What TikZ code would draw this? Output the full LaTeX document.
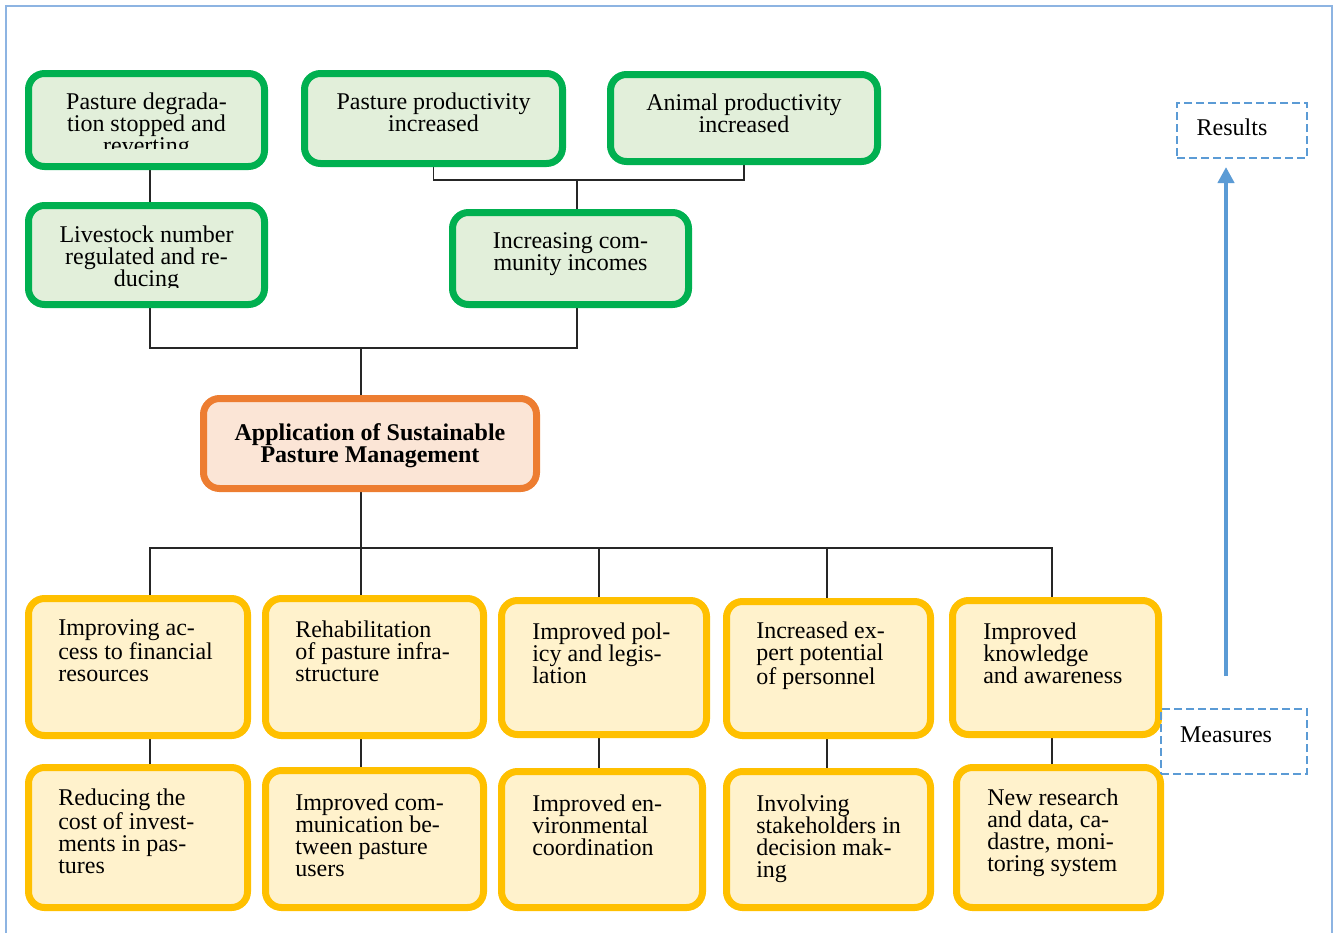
\documentclass[tikz,border=0pt]{standalone}
\usepackage{fontspec}
\setmainfont{Liberation Serif}
\usetikzlibrary{fit,backgrounds,arrows.meta}
\definecolor{gline}{HTML}{00B050}
\definecolor{gfill}{HTML}{E2EFDA}
\definecolor{oline}{HTML}{ED7D31}
\definecolor{ofill}{HTML}{FBE5D6}
\definecolor{yline}{HTML}{FFC000}
\definecolor{yfill}{HTML}{FFF2CC}
\definecolor{bline}{HTML}{5B9BD5}
\definecolor{frame}{HTML}{8DB4E2}
\tikzset{
  box/.style={rectangle, rounded corners=12pt, line width=5.25pt, inner sep=0pt, outer sep=0pt},
  gbox/.style={box, draw=gline, fill=gfill},
  obox/.style={box, draw=oline, fill=ofill},
  ybox/.style={box, draw=yline, fill=yfill},
  dbox/.style={rectangle, draw=bline, line width=0.9pt, dash pattern=on 6pt off 3pt, inner sep=0pt},
  txt/.style={inner sep=0pt, font=\fontsize{18}{16.5}\selectfont},
  ctxt/.style={txt, align=center, anchor=base},
  ltxt/.style={txt, align=left, anchor=base west},
  conn/.style={draw=black!85, line width=0.8pt},
}
\newcommand\bx[6]{\node[#1, fit={({#3+3.5},{#4+3.5}) ({#5-3.5},{#6-3.5})}] (#2) {};}
\begin{document}
\begin{tikzpicture}[x=0.75pt,y=-0.75pt]
\useasboundingbox (0,0) rectangle (1334,932);
% boxes
\bx{gbox}{g1}{25}{70}{268}{170}
\bx{gbox}{g2}{301}{70}{566}{167}
\bx{gbox}{g3}{607}{71}{881}{165}
\bx{gbox}{g4}{25}{202}{268}{308}
\bx{gbox}{g5}{449}{209}{692}{308}
\bx{obox}{o}{200}{395}{540}{492}
\bx{ybox}{y11}{25}{595}{251}{739}
\bx{ybox}{y12}{262}{595}{487}{739}
\bx{ybox}{y13}{498}{597}{710}{738}
\bx{ybox}{y14}{723}{598}{934}{739}
\bx{ybox}{y15}{949}{597}{1162}{738}
\bx{ybox}{y21}{25}{764}{251}{911}
\bx{ybox}{y22}{262}{767}{487}{911}
\bx{ybox}{y23}{498}{768}{706}{911}
\bx{ybox}{y24}{723}{768}{934}{911}
\bx{ybox}{y25}{953}{764}{1164}{911}
\node[dbox, fit={(1177,103) (1307,158)}] (res) {};
\node[dbox, fit={(1161,709) (1307,774)}] (mea) {};
% column coordinates
\coordinate (c150) at (150,0);
\coordinate (c361) at (361,0);
\coordinate (c577) at (577,0);
\coordinate (c599) at (599,0);
\coordinate (c827) at (827,0);
\coordinate (c1052) at (1052,0);
\coordinate (j1) at (577,180);
\coordinate (j2) at (361,348);
\coordinate (j3) at (361,548);
\coordinate (atail) at (1226,676);
\coordinate (atip) at (1226,167);
\begin{scope}[on background layer]
\draw[frame, line width=1.5pt] (6,6) rectangle (1332,945);
\draw[conn] (c150 |- g1.south) -- (c150 |- g4.north);
\draw[conn] (g2.south) |- (j1) -| (g3.south);
\draw[conn] (j1) -- (c577 |- g5.north);
\draw[conn] (c150 |- g4.south) -- (c150 |- j2) -- (c577 |- j2) -- (c577 |- g5.south);
\draw[conn] (j2) -- (c361 |- o.north);
\draw[conn] (c361 |- o.south) -- (j3);
\draw[conn] (c150 |- y11.north) -- (c150 |- j3) -- (c1052 |- j3) -- (c1052 |- y15.north);
\draw[conn] (c361 |- j3) -- (c361 |- y12.north);
\draw[conn] (c599 |- j3) -- (c599 |- y13.north);
\draw[conn] (c827 |- j3) -- (c827 |- y14.north);
\draw[conn] (c150 |- y11.south) -- (c150 |- y21.north);
\draw[conn] (c361 |- y12.south) -- (c361 |- y22.north);
\draw[conn] (c599 |- y13.south) -- (c599 |- y23.north);
\draw[conn] (c827 |- y14.south) -- (c827 |- y24.north);
\draw[conn] (c1052 |- y15.south) -- (c1052 |- y25.north);
\end{scope}
\draw[bline, line width=3pt, -{Triangle[width=12pt,length=12pt]}] (atail) -- (atip);
% texts (anchor = baseline of last line)
\begin{scope}
\clip (25,70) rectangle (268,148);
\node[ctxt] (t1) at (146.5,153) {Pasture degrada-\\tion stopped and\\reverting};
\end{scope}
\node[ctxt] (t2) at (433.5,131) {Pasture productivity\\increased};
\node[ctxt] (t3) at (744,132) {Animal productivity\\increased};
\begin{scope}
\clip (25,202) rectangle (268,287);
\node[ctxt] (t4) at (146.5,286) {Livestock number\\regulated and re-\\ducing};
\end{scope}
\node[ctxt] (t5) at (570.5,270) {Increasing com-\\munity incomes};
\node[ctxt, font=\fontsize{18}{16.5}\selectfont\bfseries] (t6) at (370,462) {Application of Sustainable\\Pasture Management};
\node[ltxt] (t11) at (58,681) {Improving ac-\\cess to financial\\resources};
\node[ltxt] (t12) at (295,681) {Rehabilitation\\of pasture infra-\\structure};
\node[ltxt] (t13) at (532,683) {Improved pol-\\icy and legis-\\lation};
\node[ltxt] (t14) at (756,684) {Increased ex-\\pert potential\\of personnel};
\node[ltxt] (t15) at (983,683) {Improved\\knowledge\\and awareness};
\node[ltxt] (t21) at (58,873) {Reducing the\\cost of invest-\\ments in pas-\\tures};
\node[ltxt] (t22) at (295,876) {Improved com-\\munication be-\\tween pasture\\users};
\node[ltxt] (t23) at (532,855) {Improved en-\\vironmental\\coordination};
\node[ltxt] (t24) at (756,877) {Involving\\stakeholders in\\decision mak-\\ing};
\node[ltxt] (t25) at (987,871) {New research\\and data, ca-\\dastre, moni-\\toring system};
\node[txt, anchor=base] (tr) at (1232,135) {Results};
\node[txt, anchor=base] (tm) at (1226,742) {Measures};
\end{tikzpicture}
\end{document}
